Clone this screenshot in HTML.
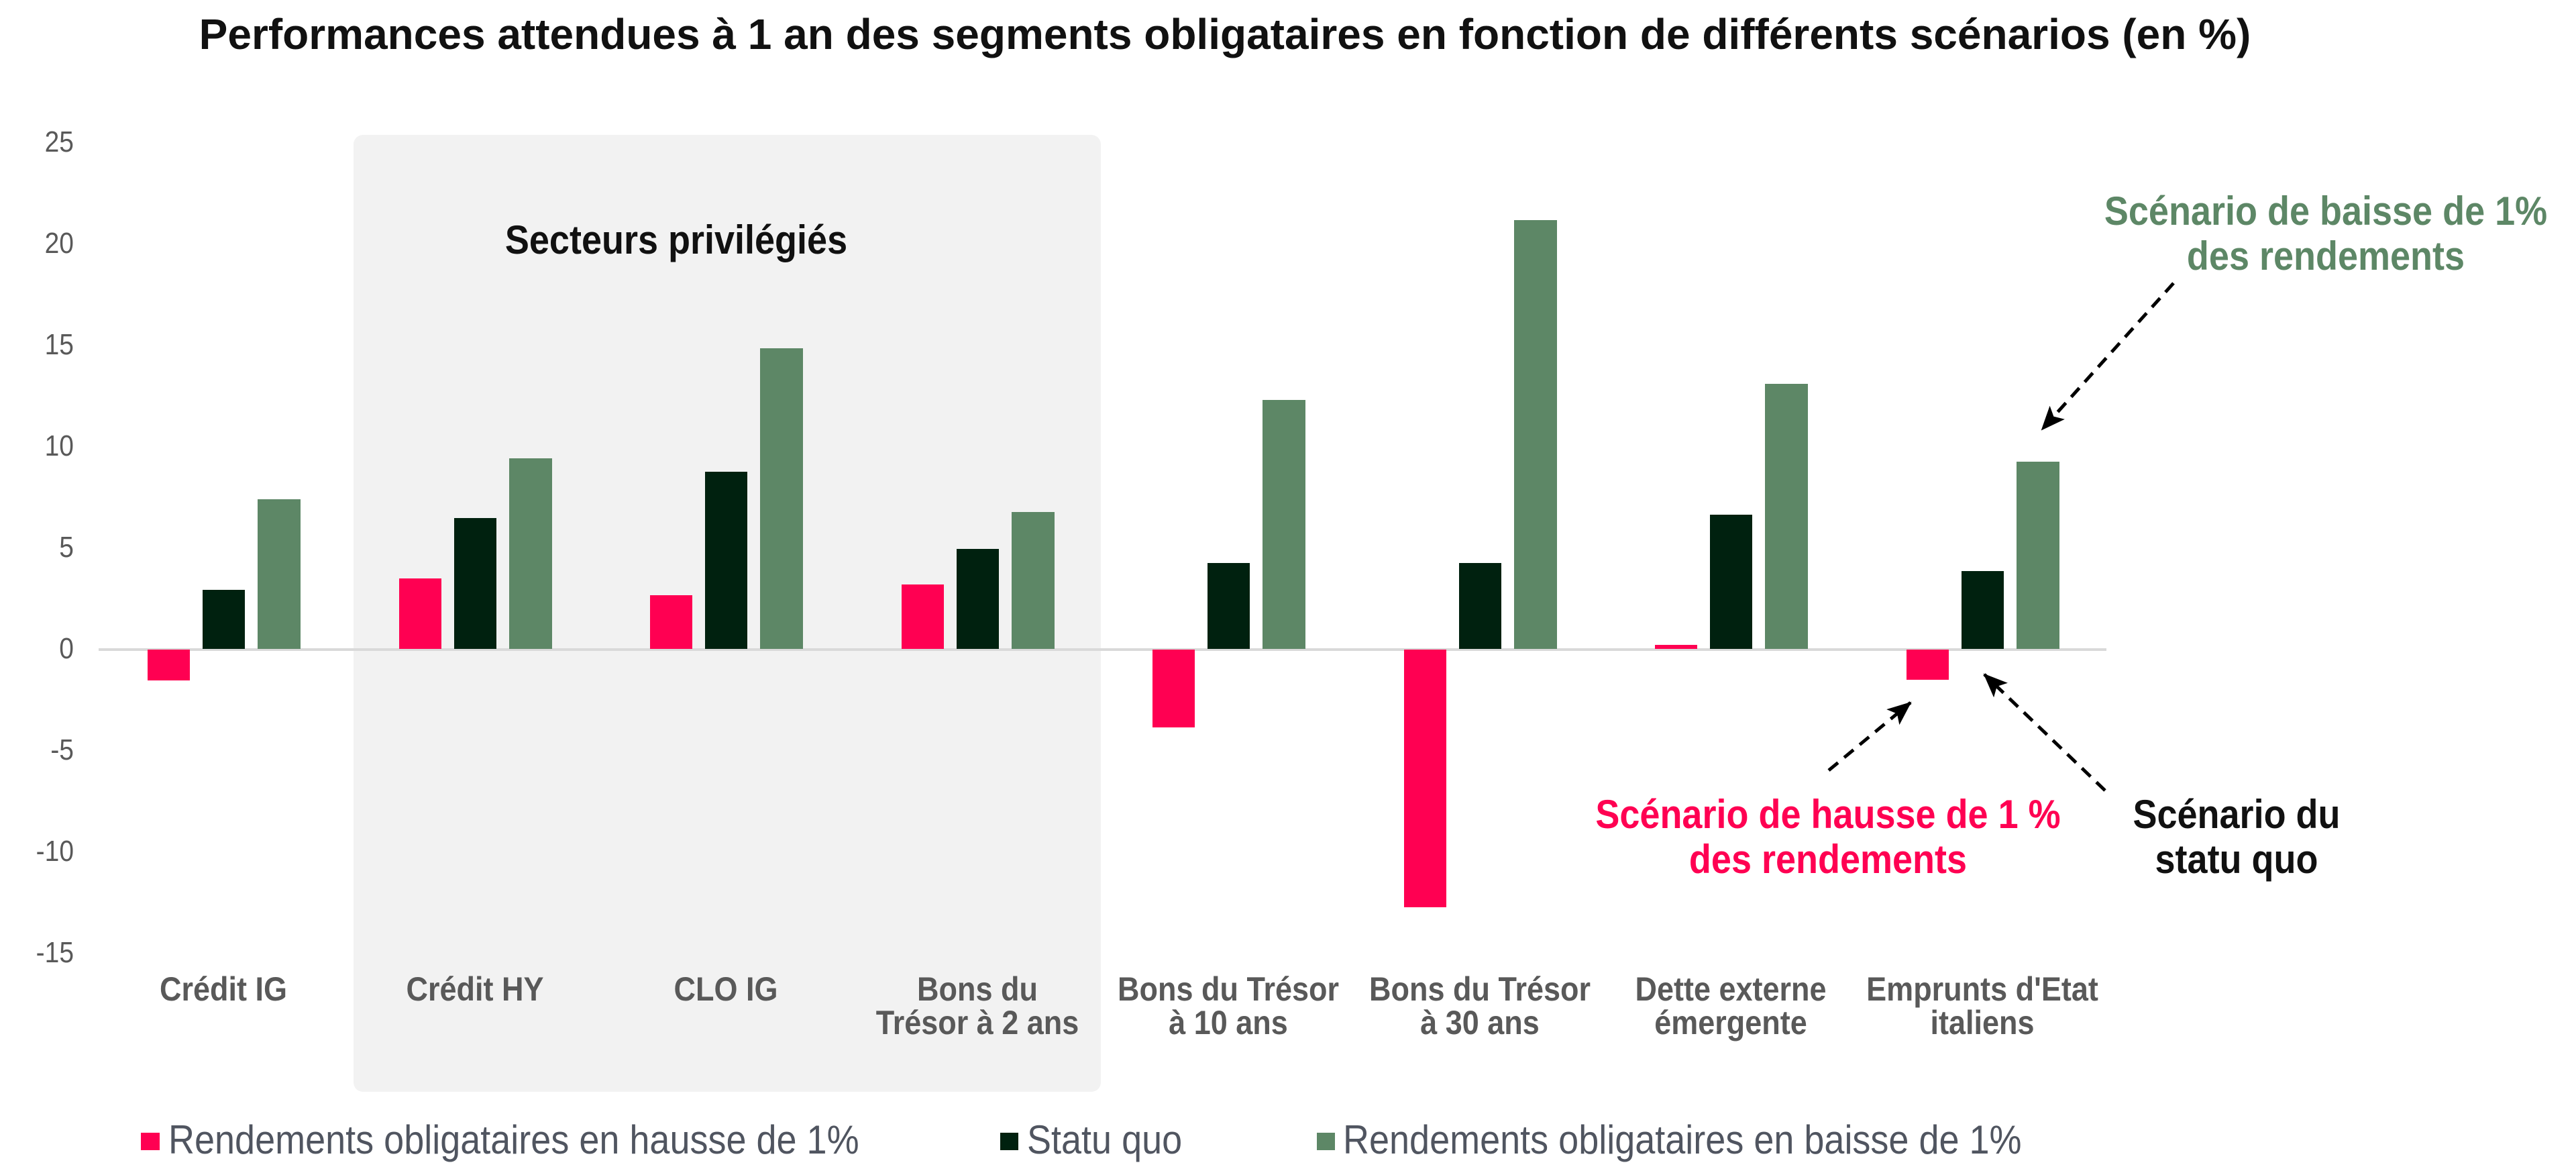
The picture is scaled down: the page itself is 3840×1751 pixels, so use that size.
<!DOCTYPE html>
<html><head><meta charset="utf-8"><style>
html,body{margin:0;padding:0;background:#fff;}
svg{display:block;}
text{font-family:"Liberation Sans",Arial,sans-serif;}
</style></head><body>
<svg width="3840" height="1751" viewBox="0 0 3840 1751" xmlns="http://www.w3.org/2000/svg">
<defs>
<marker id="ah2" markerWidth="36" markerHeight="30" refX="34" refY="15" orient="auto" markerUnits="userSpaceOnUse">
<path d="M0,0 L36,15 L0,30 L8,15 z" fill="#000"/>
</marker>
</defs>
<rect width="3840" height="1751" fill="#fff"/>
<rect x="527" y="201" width="1114" height="1426" rx="14" fill="#f2f2f2"/>
<g transform="translate(1826,73)"><text x="0" y="0" text-anchor="middle" font-size="64" font-weight="bold" fill="#111">Performances attendues à 1 an des segments obligataires en fonction de différents scénarios (en %)</text></g>
<g font-size="39" fill="#595959" text-anchor="end">
<g transform="translate(110,226) scale(1,1.12)"><text>25</text></g>
<g transform="translate(110,377) scale(1,1.12)"><text>20</text></g>
<g transform="translate(110,528) scale(1,1.12)"><text>15</text></g>
<g transform="translate(110,679) scale(1,1.12)"><text>10</text></g>
<g transform="translate(110,830) scale(1,1.12)"><text>5</text></g>
<g transform="translate(110,981) scale(1,1.12)"><text>0</text></g>
<g transform="translate(110,1132) scale(1,1.12)"><text>-5</text></g>
<g transform="translate(110,1283) scale(1,1.12)"><text>-10</text></g>
<g transform="translate(110,1434) scale(1,1.12)"><text>-15</text></g>
</g>
<line x1="147" y1="968" x2="3140" y2="968" stroke="#d9d9d9" stroke-width="4"/>
<g>
<rect x="220" y="968" width="63" height="46" fill="#ff0052"/>
<rect x="302" y="879" width="63" height="88" fill="#00210f"/>
<rect x="384" y="744" width="64" height="223" fill="#5d8766"/>
<rect x="595" y="862" width="63" height="105" fill="#ff0052"/>
<rect x="677" y="772" width="63" height="195" fill="#00210f"/>
<rect x="759" y="683" width="64" height="284" fill="#5d8766"/>
<rect x="969" y="887" width="63" height="80" fill="#ff0052"/>
<rect x="1051" y="703" width="63" height="264" fill="#00210f"/>
<rect x="1133" y="519" width="64" height="448" fill="#5d8766"/>
<rect x="1344" y="871" width="63" height="96" fill="#ff0052"/>
<rect x="1426" y="818" width="63" height="149" fill="#00210f"/>
<rect x="1508" y="763" width="64" height="204" fill="#5d8766"/>
<rect x="1718" y="968" width="63" height="116" fill="#ff0052"/>
<rect x="1800" y="839" width="63" height="128" fill="#00210f"/>
<rect x="1882" y="596" width="64" height="371" fill="#5d8766"/>
<rect x="2093" y="968" width="63" height="384" fill="#ff0052"/>
<rect x="2175" y="839" width="63" height="128" fill="#00210f"/>
<rect x="2257" y="328" width="64" height="639" fill="#5d8766"/>
<rect x="2467" y="961" width="63" height="6" fill="#ff0052"/>
<rect x="2549" y="767" width="63" height="200" fill="#00210f"/>
<rect x="2631" y="572" width="64" height="395" fill="#5d8766"/>
<rect x="2842" y="968" width="63" height="45" fill="#ff0052"/>
<rect x="2924" y="851" width="63" height="116" fill="#00210f"/>
<rect x="3006" y="688" width="64" height="279" fill="#5d8766"/>
</g>
<g font-size="45" font-weight="bold" fill="#595959" text-anchor="middle">
<g transform="translate(333,1491) scale(1,1.12)"><text>Crédit IG</text></g>
<g transform="translate(708,1491) scale(1,1.12)"><text>Crédit HY</text></g>
<g transform="translate(1082,1491) scale(1,1.12)"><text>CLO IG</text></g>
<g transform="translate(1457,1491) scale(1,1.12)"><text>Bons du</text></g>
<g transform="translate(1457,1541) scale(1,1.12)"><text>Trésor à 2 ans</text></g>
<g transform="translate(1831,1491) scale(1,1.12)"><text>Bons du Trésor</text></g>
<g transform="translate(1831,1541) scale(1,1.12)"><text>à 10 ans</text></g>
<g transform="translate(2206,1491) scale(1,1.12)"><text>Bons du Trésor</text></g>
<g transform="translate(2206,1541) scale(1,1.12)"><text>à 30 ans</text></g>
<g transform="translate(2580,1491) scale(1,1.12)"><text>Dette externe</text></g>
<g transform="translate(2580,1541) scale(1,1.12)"><text>émergente</text></g>
<g transform="translate(2955,1491) scale(1,1.12)"><text>Emprunts d'Etat</text></g>
<g transform="translate(2955,1541) scale(1,1.12)"><text>italiens</text></g>
</g>
<g transform="translate(1008,378) scale(1,1.12)"><text text-anchor="middle" font-size="54" font-weight="bold" fill="#111">Secteurs privilégiés</text></g>
<g font-size="54" font-weight="bold" text-anchor="middle">
<g transform="translate(3467,335) scale(1,1.12)"><text fill="#5d8766">Scénario de baisse de 1%</text></g>
<g transform="translate(3467,402) scale(1,1.12)"><text fill="#5d8766">des rendements</text></g>
<g transform="translate(2725,1234) scale(1,1.12)"><text fill="#ff0052">Scénario de hausse de 1 %</text></g>
<g transform="translate(2725,1301) scale(1,1.12)"><text fill="#ff0052">des rendements</text></g>
<g transform="translate(3334,1234) scale(1,1.12)"><text fill="#111">Scénario du</text></g>
<g transform="translate(3334,1301) scale(1,1.12)"><text fill="#111">statu quo</text></g>
</g>
<g stroke="#000" stroke-width="5" stroke-dasharray="18,12" fill="none">
<line x1="3240" y1="422" x2="3044" y2="640" marker-end="url(#ah2)"/>
<line x1="2726" y1="1148" x2="2848" y2="1047" marker-end="url(#ah2)"/>
<line x1="3138" y1="1178" x2="2958" y2="1005" marker-end="url(#ah2)"/>
</g>
<rect x="210" y="1688" width="28" height="26" fill="#ff0052"/>
<g transform="translate(251,1719) scale(1,1.12)"><text font-size="54" fill="#505560">Rendements obligataires en hausse de 1%</text></g>
<rect x="1491" y="1688" width="27" height="26" fill="#00210f"/>
<g transform="translate(1531,1719) scale(1,1.12)"><text font-size="54" fill="#505560">Statu quo</text></g>
<rect x="1963" y="1688" width="27" height="26" fill="#5d8766"/>
<g transform="translate(2002,1719) scale(1,1.12)"><text font-size="54" fill="#505560">Rendements obligataires en baisse de 1%</text></g>
</svg>
</body></html>
